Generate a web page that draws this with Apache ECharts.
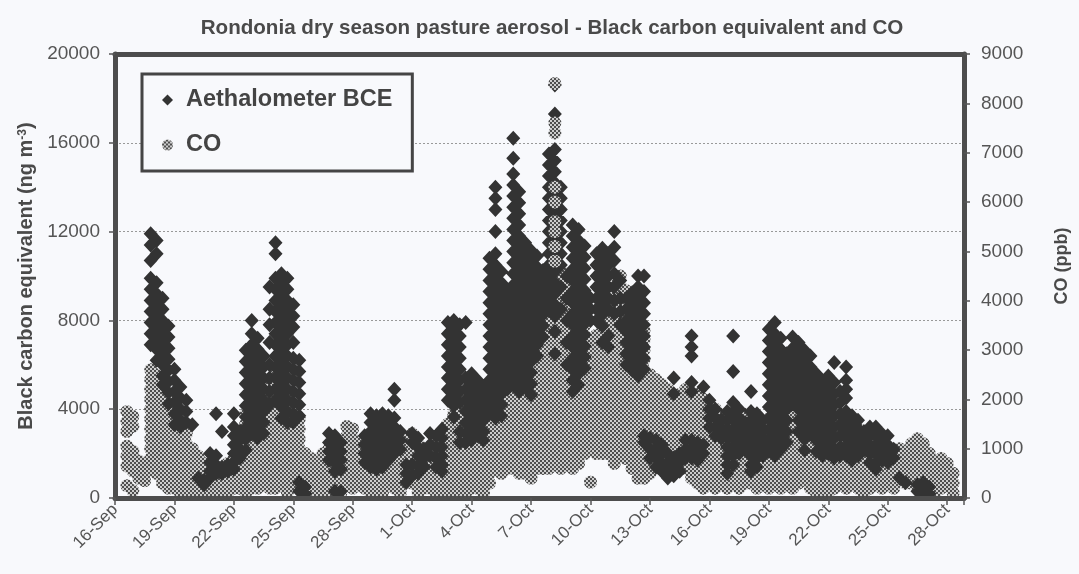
<!DOCTYPE html>
<html><head><meta charset="utf-8">
<script src="https://cdn.jsdelivr.net/npm/echarts@6/dist/echarts.min.js"></script>
<style>html,body{margin:0;padding:0;background:#f8f9fc;}#c{width:1079px;height:574px;}</style>
</head><body><div id="c"></div>
<script>
// Tick labels (x axis, every 3 days starting 16-Sep)
const dateLabels = ['16-Sep','19-Sep','22-Sep','25-Sep','28-Sep','1-Oct','4-Oct','7-Oct','10-Oct','13-Oct','16-Oct','19-Oct','22-Oct','25-Oct','28-Oct'];

// Aethalometer BCE (ng m-3): [day since 16-Sep, [values read at that time]]
const bceColumns = [
[1.8,[11900,11400,10700,9900,9400,8900,8400,7900,7400,6900]],
[2.1,[11600,11000,9700,9200,8700,8200,7700,7200,6700,6200]],
[2.4,[9000,8500,8000,7500,7000,6500,6000,5500,5100]],
[2.7,[7750,7250,6750,6250,5750,5250,4750,4250]],
[3.0,[5800,5300,4800,4300,3800,3300]],
[3.3,[5000,4500,4000,3500,3200]],
[3.6,[4400,3900,3400]],
[3.9,[3300]],
[4.2,[900]],
[4.5,[800,600]],
[4.8,[2000,1600,1200,900]],
[5.1,[3800,1900,1500,1100]],
[5.4,[3000,1400,1100]],
[5.7,[1500,1200]],
[6.0,[3800,3200,2800,2400,2000,1600,1300]],
[6.3,[3000,2600,2200,1800]],
[6.6,[6650,6150,5650,5150,4650,4150,3650,3150,2650,2150]],
[6.9,[8000,7400,6900,6400,5900,5400,4900,4400,3900,3400,2900]],
[7.2,[7200,6700,6200,5700,5200,4700,4200,3700,3200,2700]],
[7.5,[6400,5900,5400,4900,4400,3900,3400,2900]],
[7.8,[9500,8500,7800,7000,6000,5400,4800,4200]],
[8.1,[11500,11000,9900,9400,8900,8400,7900,7400,6900,6400,5900,5400,4900,4400]],
[8.4,[10100,9600,9100,8600,8100,7600,7100,6600,6100,5600,5100,4600,4100,3600]],
[8.7,[9900,9400,8900,8400,7900,7400,6900,6400,5900,5400,4900,4400,3900,3400]],
[9.0,[8700,8200,7700,7000,6300,5800,5300,4800,4300,3800,3400]],
[9.3,[6200,5700,5200,4700,4200,3700,700,300]],
[9.6,[500,200]],
[10.8,[2900,2500,2100,1700]],
[11.1,[2800,2400,2000,1600,1200,300]],
[11.4,[2500,2100,1700,1300,300]],
[12.6,[2800,2400,2000,1600]],
[12.9,[3800,3400,3000,2600,2200,1800,1400]],
[13.2,[3700,3300,2900,2500,2100,1700,1300]],
[13.5,[3800,3400,3000,2600,2200,1800,1400]],
[13.8,[3700,3300,2900,2500,2100,1700]],
[14.1,[4900,4400,3600,3200,2800,2400,2000]],
[14.4,[3000,2600,2200]],
[14.7,[1500,1100,700]],
[15.0,[2900,2500,1500,1000]],
[15.3,[2700,2300,1900,1500,1100]],
[15.6,[2200,1800,1400]],
[15.9,[2900,2400,1900]],
[16.2,[2800,2300,1800,1400]],
[16.5,[3100,2700,2300,1900,1500,1200]],
[16.8,[7900,7400,6900,6400,5900,5400,4900,4400]],
[17.1,[8000,7650,7150,6650,6150,5650,5150,4650,4150,3650]],
[17.4,[7800,7300,6800,6300,5800,5300,4800,4300,3000,2500]],
[17.7,[7900,5400,4900,4400,3900,3400,2900,2500]],
[18.0,[5600,5100,4600,4100,3600,3100,2600]],
[18.3,[5300,4800,4300,3800,3300,2800]],
[18.6,[5000,4500,4000,3500,3000,2600]],
[18.9,[10800,10300,9800,9300,8800,8300,7800,7300,6800,6300,5800,5300,4800,4300,3800]],
[19.2,[14000,13500,13000,12000,11000,10500,10000,9500,9000,8500,8000,7500,7000,6500,6000,5500,5000,4500,4000,3600]],
[19.5,[10200,9700,9200,8700,8200,7700,7200,6700,6200,5700,5200,4700,4200,3700]],
[19.8,[9400,8900,8400,7900,7400,6900,6400,5900,5400,4900]],
[20.1,[16200,15300,14600,14100,13600,13100,12600,12100,11600,11100,10600,10100,9600,9100,8600,8100,7600,7100,6600,6100,5600,5100]],
[20.4,[13800,13300,12800,12300,11800,11300,10800,10300,9800,9300,8800,8300,7800,7300,6800,6300,5800,5300,4800]],
[20.7,[11500,11000,10500,10000,9500,9000,8500,8000,7500,7000,6500,6000,5500,5000]],
[21.0,[11150,10650,10150,9650,9150,8650,8150,7650,7150,6650,6150,5650,5150,4650]],
[21.3,[10900,10400,9900,9400,8900,8400,7900,7400,6900,6400]],
[21.6,[10250,9750,9250,8750,8250,7750,7250]],
[21.9,[15500,15000,14500,14000,13500,13000,12500,12000,11500,11000,10500,10000,9500,9000,8500]],
[22.2,[18600,17300,15700,15200,14700,14200,13700,13200,12700,12200,11700,11200,10700,10200,9700,9200,8700,8200,7500,6500]],
[22.5,[14000,13500,13000,12500,12000,11500,11000,10500,9500,8500]],
[22.8,[10000,9000,8000,7000,6000]],
[23.1,[12300,11800,11300,10800,10300,9800,9300,8800,8300,7800,7300,6800,6300,5800,5300,4800]],
[23.4,[12100,11600,11100,10600,10100,9600,9100,8600,8100,7600,7100,6600,6100,5600,5100]],
[23.7,[11350,10850,10350,9850,9350,8850,8350,7850,7350,6850,6350,5850]],
[24.0,[9000,8500,8000]],
[24.3,[11000,10500,10000,9500,9000,8500,8000]],
[24.6,[11250,10750,10250,9750,9250,8750,8250,7750,7000]],
[24.9,[11000,10500,10000,9500,9000,8500,7300,6800]],
[25.2,[12000,11300,10700,10100,9500,8900,8300]],
[25.5,[9800,9000,8400,7800]],
[25.8,[9000,8500,8000,7500,7000,6500,6000]],
[26.1,[9250,8750,8250,7750,7250,6750,6250,5750]],
[26.4,[10000,9500,9000,8500,8000,7500,7000,6500,6000,5500]],
[26.7,[10000,9300,8800,8300,7800,7300,6800,6300,5800,2800,2500]],
[27.0,[2700,2200,1800]],
[27.3,[2600,2200,1800,1400]],
[27.6,[2400,2000,1600,1200]],
[27.9,[2000,1600,1200,900]],
[28.2,[5400,4700,1800,1400,1000]],
[28.5,[2000,1600,1200]],
[28.8,[2600,2200,1800]],
[29.1,[7300,6800,6400,5200,4800,2600,2200,1800]],
[29.4,[2500,2100,1700]],
[29.7,[5000,2400,2000]],
[30.0,[4400,4000,3600,3200]],
[30.3,[4000,3600,3200,2800]],
[30.6,[3500,3100,2700]],
[30.9,[3900,3500,3100,2700,2300,1900,1500,1100]],
[31.2,[7300,5700,4300,3900,3500,3100,2700,2300,1900,1500]],
[31.5,[4000,3600,3200,2800,2400,2000]],
[31.8,[3400,3000,2600,2200]],
[32.1,[4800,3900,3500,3100,2700,2300,1900,1500,1200]],
[32.4,[3800,3400,3000,2600,2200,1800,1400]],
[32.7,[3500,3100,2700,2300,1900]],
[33.0,[7600,7100,6600,6100,5600,5100,4600,4100,3600,3100,2600,2100]],
[33.3,[7900,7400,6900,6400,5900,5400,4900,4400,3900,3400,2900,2400,1900]],
[33.6,[7200,6700,6200,5700,5200,4700,4200,3700,3200,2700,2200]],
[33.9,[6500,6000,5500,5000,4500,4000,3500,3000,2500]],
[34.2,[7250,6750,6250,5750,5250,4750,4250]],
[34.5,[7000,6500,6000,5500,5000,4500,4000,3500,3000]],
[34.8,[6650,6150,5650,5150,4650,4150,3650,3150,2650,2150]],
[35.1,[6400,5900,5400,4900,4400,3900,3400,2900]],
[35.4,[5600,5100,4600,4100,3600,3100,2600,2100]],
[35.7,[5300,4800,4300,3800,3300,2800,2300,1900]],
[36.0,[5500,5000,4500,4000,3500,3000,2500,2000]],
[36.3,[6100,5200,4700,4200,3700,3200,2700,2200,1800]],
[36.6,[4800,4300,3800,3300,2800,2300,1900]],
[36.9,[5900,5300,4900,4500,3900,3500,3100,2700,2300,1900]],
[37.2,[3700,3300,2900,2500,2100,1700]],
[37.5,[3500,3100,2700,2300,1900]],
[37.8,[3000,2600,2200]],
[38.1,[3200,2800,2400,2000,1600]],
[38.4,[3200,2800,2400,2000,1600,1300]],
[38.7,[2900,2500,2100,1700]],
[39.0,[2800,2400,2000,1600]],
[39.3,[2200,1800]],
[39.6,[900]],
[39.9,[700]],
[40.5,[600,300]],
[40.8,[700,400,200]],
[41.1,[500,200]]
];

// CO (ppb): [day since 16-Sep, [values]]
const coColumns = [
[0.6,[1750,1550,1350,1050,850,650,250]],
[0.9,[1650,1450,950,750,550,150]],
[1.2,[750,550,400]],
[1.5,[700,500,350]],
[1.8,[2600,2400,2200,2000,1800,1600,1400,1200,1000,800,600]],
[2.1,[2500,2300,2100,1900,1700,1500,1300,1100,900,700,500]],
[2.4,[2200,1900,1700,1500,1300,1100,900,700,500,300]],
[2.7,[2000,1800,1600,1400,1200,1000,800,600,400,200]],
[3.0,[1800,1600,1400,1200,1000,800,600,400,200]],
[3.3,[1500,1300,1100,900,700,500,300,100]],
[3.6,[1300,1100,900,700,500,300,100]],
[3.9,[1000,800,600,400,200]],
[4.2,[850,650,450,250,80]],
[4.5,[700,500,300,100]],
[4.8,[500,300,100]],
[5.1,[500,300,100]],
[5.4,[600,400,200]],
[5.7,[700,500,300,100]],
[6.0,[800,600,400,200]],
[6.3,[1000,800,600,400,200]],
[6.6,[1700,1500,1300,1100,900,700,500,300,100]],
[6.9,[1800,1600,1400,1200,1000,800,600,400,200]],
[7.2,[2000,1800,1600,1400,1200,1000,800,600,400,200]],
[7.5,[2200,2000,1800,1600,1400,1200,1000,800,600,400]],
[7.8,[2400,2200,2000,1800,1600,1400,1200,1000,800,600,400,200]],
[8.1,[2600,2400,2200,2000,1800,1600,1400,1200,1000,800,600,400,200]],
[8.4,[2300,2100,1900,1700,1500,1300,1100,900,700,500,300]],
[8.7,[2100,1900,1700,1500,1300,1100,900,700,500,300,100]],
[9.0,[1850,1650,1450,1250,1050,850,650,450,250]],
[9.3,[1600,1400,1200,1000,800,600,400,200]],
[9.6,[900,700,500,300,100]],
[9.9,[800,600,400,200]],
[10.2,[700,500,300,100]],
[10.5,[900,700,500,300,100]],
[10.8,[1000,800,600,400,200]],
[11.1,[900,700,500,300,100]],
[11.4,[1100,900,700,500,300,100]],
[11.7,[1450,1250,1050,850,650,450,250]],
[12.0,[1400,1200,1000,800,600,400,200]],
[12.3,[1100,900,700,500,300]],
[12.6,[1000,800,600,400,200]],
[12.9,[900,700,500,300,100]],
[13.2,[1000,800,600,400,200]],
[13.5,[900,700,500,300,100]],
[13.8,[1100,900,700,500,300]],
[14.1,[1200,1000,800,600,400,200]],
[14.4,[1300,1100,900,700,500,300,100]],
[14.7,[1200,1000,800,600,400]],
[15.0,[1300,1100,900,700,500,300]],
[15.3,[1100,900,700,500,300,100]],
[15.6,[1000,800,600,400,200]],
[15.9,[1000,800,600,400,200]],
[16.2,[1100,900,700,500,300,100]],
[16.5,[1300,1100,900,700,500,300,100]],
[16.8,[1500,1300,1100,900,700,500,300,100]],
[17.1,[1700,1500,1300,1100,900,700,500,300,100]],
[17.4,[1800,1600,1400,1200,1000,800,600,400,200]],
[17.7,[1900,1700,1500,1300,1100,900,700,500,300,100]],
[18.0,[1800,1600,1400,1200,1000,800,600,400,200]],
[18.3,[2000,1800,1600,1400,1200,1000,800,600,400,200]],
[18.6,[2100,1900,1700,1500,1300,1100,900,700,500,300,100]],
[18.9,[2300,2100,1900,1700,1500,1300,1100,900,700,500,300]],
[19.2,[2600,2400,2200,2000,1800,1600,1400,1200,1000,800,600]],
[19.5,[2900,2700,2500,2300,2100,1900,1700,1500,1300,1100,900,700,500]],
[19.8,[3600,3400,3200,3000,2800,2600,2400,2200,2000,1800,1600,1400,1200,1000,800,600]],
[20.1,[3800,3600,3400,3200,3000,2800,2600,2400,2200,2000,1800,1600,1400,1200,1000,800,600]],
[20.4,[3700,3500,3300,3100,2900,2700,2500,2300,2100,1900,1700,1500,1300,1100,900,700,500]],
[20.7,[3500,3300,3100,2900,2700,2500,2300,2100,1900,1700,1500,1300,1100,900,700,500]],
[21.0,[3400,3200,3000,2800,2600,2400,2200,2000,1800,1600,1400,1200,1000,800,600,400]],
[21.3,[4000,3800,3600,3400,3200,3000,2800,2600,2400,2200,2000,1800,1600,1400,1200,1000,800,600]],
[21.6,[4400,4200,4000,3800,3600,3400,3200,3000,2800,2600,2400,2200,2000,1800,1600,1400,1200,1000,800,600]],
[21.9,[4600,4400,4200,4000,3800,3600,3400,3200,3000,2800,2600,2400,2200,2000,1800,1600,1400,1200,1000,800,600]],
[22.2,[4500,4300,4100,3900,3700,3500,3300,3100,2900,2700,2500,2300,2100,1900,1700,1500,1300,1100,900,700]],
[22.5,[4600,4400,4200,4000,3800,3600,3400,3200,3000,2800,2600,2400,2200,2000,1800,1600,1400,1200,1000,800,600]],
[22.8,[4500,4300,4100,3900,3700,3500,3300,3100,2900,2700,2500,2300,2100,1900,1700,1500,1300,1100,900,700]],
[23.1,[4400,4200,4000,3800,3600,3400,3200,3000,2800,2600,2400,2200,2000,1800,1600,1400,1200,1000,800,600]],
[23.4,[4300,4100,3900,3700,3500,3300,3100,2900,2700,2500,2300,2100,1900,1700,1500,1300,1100,900,700]],
[23.7,[4100,3900,3700,3500,3300,3100,2900,2700,2500,2300,2100,1900,1700,1500,1300,1100,900]],
[24.0,[3100,2900,2700,2500,2300,2100,1900,1700,1500,1300,1100,320]],
[24.3,[3300,3100,2900,2700,2500,2300,2100,1900,1700,1500,1300,1100,900]],
[24.6,[3500,3300,3100,2900,2700,2500,2300,2100,1900,1700,1500,1300,1100,900]],
[24.9,[3700,3500,3300,3100,2900,2700,2500,2300,2100,1900,1700,1500,1300,1100,900]],
[25.2,[4300,4100,3900,3700,3500,3300,3100,2900,2700,2500,2300,2100,1900,1700,1500,1300,1100,900,700]],
[25.5,[4500,4300,4100,3900,3700,3500,3300,3100,2900,2700,2500,2300,2100,1900,1700,1500,1300,1100,900]],
[25.8,[4200,4000,3800,3600,3400,3200,3000,2800,2600,2400,2200,2000,1800,1600,1400,1200,1000,800]],
[26.1,[4000,3800,3600,3400,3200,3000,2800,2600,2400,2200,2000,1800,1600,1400,1200,1000,800,600]],
[26.4,[3800,3600,3400,3200,3000,2800,2600,2400,2200,2000,1800,1600,1400,1200,1000,800,600,400]],
[26.7,[3400,3200,3000,2800,2600,2400,2200,2000,1800,1600,1400,1200,1000,800,600,400]],
[27.0,[2500,2300,2100,1900,1700,1500,1300,1100,900,700,500]],
[27.3,[2400,2200,2000,1800,1600,1400,1200,1000,800,600]],
[27.6,[2300,2100,1900,1700,1500,1300,1100,900,700]],
[27.9,[2200,2000,1800,1600,1400,1200,1000,800,600]],
[28.2,[2000,1800,1600,1400,1200,1000,800]],
[28.5,[2100,1900,1700,1500,1300,1100,900,700]],
[28.8,[2200,2000,1800,1600,1400,1200,1000,800,600]],
[29.1,[2000,1800,1600,1400,1200,1000,800,600,400]],
[29.4,[2100,1900,1700,1500,1300,1100,900,700,500,300]],
[29.7,[2000,1800,1600,1400,1200,1000,800,600,400,200]],
[30.0,[1900,1700,1500,1300,1100,900,700,500,300]],
[30.3,[1800,1600,1400,1200,1000,800,600,400,200]],
[30.6,[1700,1500,1300,1100,900,700,500,300]],
[30.9,[1600,1400,1200,1000,800,600,400,200]],
[31.2,[1700,1500,1300,1100,900,700,500,300]],
[31.5,[1600,1400,1200,1000,800,600,400,200]],
[31.8,[1700,1500,1300,1100,900,700,500,300]],
[32.1,[1500,1300,1100,900,700,500,300]],
[32.4,[1400,1200,1000,800,600,400,200]],
[32.7,[1500,1300,1100,900,700,500,300]],
[33.0,[1600,1400,1200,1000,800,600,400,200]],
[33.3,[1700,1500,1300,1100,900,700,500,300]],
[33.6,[1600,1400,1200,1000,800,600,400,200]],
[33.9,[1700,1500,1300,1100,900,700,500,300]],
[34.2,[1800,1600,1400,1200,1000,800,600,400,200]],
[34.5,[1900,1700,1500,1300,1100,900,700,500,300]],
[34.8,[2000,1800,1600,1400,1200,1000,800,600,400]],
[35.1,[1800,1600,1400,1200,1000,800,600,400,200]],
[35.4,[1700,1500,1300,1100,900,700,500,300,100]],
[35.7,[1600,1400,1200,1000,800,600,400,200]],
[36.0,[1500,1300,1100,900,700,500,300,100]],
[36.3,[1400,1200,1000,800,600,400,200]],
[36.6,[1500,1300,1100,900,700,500,300]],
[36.9,[1400,1200,1000,800,600,400,200]],
[37.2,[1300,1100,900,700,500,300]],
[37.5,[1400,1200,1000,800,600,400,200]],
[37.8,[1300,1100,900,700,500,300,100]],
[38.1,[1000,800,600,400,200]],
[38.4,[900,700,500,300]],
[38.7,[1000,800,600,400,200]],
[39.0,[900,700,500,300]],
[39.3,[800,600,400,200]],
[39.6,[1000,800,600,400]],
[39.9,[900,700,500,300]],
[40.2,[1100,900,700,500,300]],
[40.5,[1200,1000,800,600,400]],
[40.8,[1100,900,700,500,300]],
[41.1,[900,700,500,300,100]],
[41.4,[700,500,300,100]],
[41.7,[800,600,400,200]],
[42.0,[700,500,300]],
[42.3,[500,300,100]]
];

// CO readings visible on top of the 8-Oct BCE peak
const coPeakColumns = [
[22.2,[8400,7600,7400,6300,6000,5600,5400,5100,4800]]
];

function toPoints(cols) {
  const out = [];
  cols.forEach(function (c) { c[1].forEach(function (v) { out.push([c[0], v]); }); });
  return out;
}

const pc = document.createElement('canvas');
pc.width = 4; pc.height = 4;
const g = pc.getContext('2d');
g.fillStyle = '#cdcdcd'; g.fillRect(0, 0, 4, 4);
g.fillStyle = '#4e4e4e'; g.fillRect(0, 0, 2, 2); g.fillRect(2, 2, 2, 2);
const coFill = { image: pc, repeat: 'repeat' };

const FONT = '"Liberation Sans", Arial, Helvetica, sans-serif';
const BG = '#f8f9fc';
const FRAME = { color: '#4d4d4d', width: 5 };
const TICK = { color: '#555555', width: 1.5 };
const plain = function (v) { return String(v); };

const chart = echarts.init(document.getElementById('c'), null, { renderer: 'canvas' });
chart.setOption({
  backgroundColor: BG,
  animation: false,
  textStyle: { fontFamily: FONT },
  title: {
    text: 'Rondonia dry season pasture aerosol - Black carbon equivalent and CO',
    left: 547, top: 13, textAlign: 'center',
    textStyle: { fontSize: 20.6, fontWeight: 'bold', color: '#4a4a4a', fontFamily: FONT }
  },
  legend: {
    data: [{ name: 'Aethalometer BCE', icon: 'diamond' }, { name: 'CO', icon: 'circle' }],
    orient: 'vertical', left: 142, top: 74,
    padding: [14, 20, 14, 20], itemGap: 21, itemWidth: 11, itemHeight: 11,
    borderColor: '#454545', borderWidth: 3, backgroundColor: BG,
    selectedMode: false,
    textStyle: { fontSize: 23.5, fontWeight: 'bold', color: '#444444', fontFamily: FONT, padding: [0, 0, 0, 8] }
  },
  grid: { left: 115, right: 115, top: 54, bottom: 76 },
  xAxis: [
    {
      type: 'value', min: 0, max: 42.85, interval: 3, position: 'bottom', z: 10,
      axisLine: { show: true, onZero: false, lineStyle: FRAME },
      axisTick: { show: true, length: 7, lineStyle: TICK },
      splitLine: { show: false },
      axisLabel: {
        rotate: 45, fontSize: 17, color: '#555555', margin: 9, fontFamily: FONT,
        formatter: function (v) { const i = Math.round(v / 3); return Math.abs(v - i * 3) < 1e-6 ? (dateLabels[i] || '') : ''; }
      }
    },
    {
      type: 'value', min: 0, max: 42.85, position: 'top', z: 10,
      axisLine: { show: true, onZero: false, lineStyle: FRAME },
      axisTick: { show: false }, axisLabel: { show: false }, splitLine: { show: false }
    }
  ],
  yAxis: [
    {
      type: 'value', min: 0, max: 20000, interval: 4000, position: 'left', z: 10,
      name: '{a|Black carbon equivalent (ng m}{s|-3}{a|)}',
      nameLocation: 'middle', nameGap: 71, nameRotate: 90,
      nameTextStyle: {
        rich: {
          a: { fontSize: 20, fontWeight: 'bold', color: '#4a4a4a', fontFamily: FONT },
          s: { fontSize: 12, fontWeight: 'bold', color: '#4a4a4a', fontFamily: FONT, verticalAlign: 'top' }
        }
      },
      axisLine: { show: true, onZero: false, lineStyle: FRAME },
      axisTick: { show: true, length: 6, lineStyle: TICK },
      axisLabel: { fontSize: 19, color: '#555555', margin: 15, fontFamily: FONT, formatter: plain },
      splitLine: { show: false }
    },
    {
      type: 'value', min: 0, max: 9000, interval: 1000, position: 'right', z: 10,
      name: 'CO (ppb)', nameLocation: 'middle', nameGap: 89, nameRotate: 90,
      nameTextStyle: { fontSize: 18, fontWeight: 'bold', color: '#4a4a4a', fontFamily: FONT, padding: [0, 0, 0, 20] },
      axisLine: { show: true, onZero: false, lineStyle: FRAME },
      axisTick: { show: true, length: 6, lineStyle: TICK },
      axisLabel: { fontSize: 19, color: '#555555', margin: 17, fontFamily: FONT, formatter: plain },
      splitLine: { show: false }
    },
    {
      type: 'value', min: 0, max: 20000, interval: 4000, position: 'left', z: 0,
      axisLine: { show: false }, axisTick: { show: false }, axisLabel: { show: false },
      splitLine: { show: true, lineStyle: { type: [2, 2], color: '#999999', width: 1 } }
    }
  ],
  series: [
    {
      name: 'CO', type: 'scatter', xAxisIndex: 0, yAxisIndex: 1, z: 2, silent: true,
      large: true, largeThreshold: 0,
      symbol: 'circle', symbolSize: 13, itemStyle: { color: coFill, opacity: 1 },
      data: toPoints(coColumns)
    },
    {
      name: 'Aethalometer BCE', type: 'scatter', xAxisIndex: 0, yAxisIndex: 0, z: 3, silent: true,
      large: true, largeThreshold: 0,
      symbol: 'diamond', symbolSize: [14, 15], itemStyle: { color: '#333333', opacity: 1 },
      data: toPoints(bceColumns)
    },
    {
      name: 'CO', type: 'scatter', xAxisIndex: 0, yAxisIndex: 1, z: 4, silent: true,
      large: true, largeThreshold: 0,
      symbol: 'circle', symbolSize: 13, itemStyle: { color: coFill, opacity: 1 },
      data: toPoints(coPeakColumns)
    }
  ]
});
</script>
</body></html>
